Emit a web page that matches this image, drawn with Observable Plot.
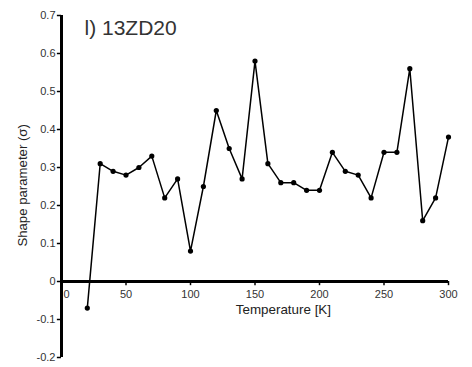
<!DOCTYPE html>
<html><head><meta charset="utf-8">
<script src="https://cdn.jsdelivr.net/npm/d3@7"></script>
<script src="https://cdn.jsdelivr.net/npm/@observablehq/plot@0.6"></script>
<style>body{margin:0;background:#fff}</style>
</head><body><div id="chart"></div>
<script>
const temperature = [20,30,40,50,60,70,80,90,100,110,120,130,140,150,160,170,180,190,200,210,220,230,240,250,260,270,280,290,300];
const sigma = [-0.07,0.31,0.29,0.28,0.30,0.33,0.22,0.27,0.08,0.25,0.45,0.35,0.27,0.58,0.31,0.26,0.26,0.24,0.24,0.34,0.29,0.28,0.22,0.34,0.34,0.56,0.16,0.22,0.38];
const xTicks = [0,50,100,150,200,250,300];
const xTickLabels = ["0","50","100","150","200","250","300"];
const yTicks = [0.7,0.6,0.5,0.4,0.3,0.2,0.1,0,-0.1,-0.2];
const yTickLabels = ["0.7","0.6","0.5","0.4","0.3","0.2","0.1","0","-0.1","-0.2"];
const title = "l) 13ZD20";
const xLabel = "Temperature [K]";
const yLabel = "Shape parameter (σ)";

const data = temperature.map((t,i)=>({t, s: sigma[i]}));
const xt = xTicks.map((v,i)=>({v, label: xTickLabels[i]}));
const yt = yTicks.map((v,i)=>({v, label: yTickLabels[i]}));

const chart = Plot.plot({
  width: 472, height: 367,
  marginLeft: 61, marginRight: 24, marginTop: 15, marginBottom: 10,
  style: {fontFamily: "'Liberation Sans', Arial, sans-serif", background: "#fff"},
  x: {domain: [0, 300], axis: null},
  y: {domain: [-0.2, 0.7], axis: null},
  marks: [
    // y axis ticks and labels
    Plot.ruleY(yt, {y: "v", x1: 0, x2: -3.2, stroke: "#000", strokeWidth: 1.5}),
    Plot.text(yt, {y: "v", x: 0, text: "label", textAnchor: "end", dx: -6, fontSize: 11, fill: "#333"}),
    // x axis ticks and labels
    Plot.ruleX(xt, {x: "v", y1: 0, y2: -0.011, stroke: "#000", strokeWidth: 1.5}),
    Plot.text(xt.filter(d=>d.v!==0), {x: "v", y: 0, text: "label", dy: 13, fontSize: 11, fill: "#333"}),
    Plot.text(xt.filter(d=>d.v===0), {x: "v", y: 0, text: "label", dy: 13, dx: 5, fontSize: 11, fill: "#333"}),
    // axis lines
    Plot.ruleX([0], {y1: -0.2, y2: 0.7, stroke: "#000", strokeWidth: 3}),
    Plot.ruleY([0], {x1: 0, x2: 300, stroke: "#000", strokeWidth: 3}),
    // data
    Plot.line(data, {x: "t", y: "s", stroke: "#000", strokeWidth: 1.5}),
    Plot.dot(data, {x: "t", y: "s", r: 2.6, fill: "#000", stroke: "none"}),
    // labels
    Plot.text([title], {frameAnchor: "top-left", dx: 23, dy: 5, text: d=>d, fontSize: 21, fill: "#333", fontWeight: "normal", textAnchor: "start", lineAnchor: "top"}),
    Plot.text([xLabel], {x: 172, y: 0, dy: 28, text: d=>d, fontSize: 13.4, fill: "#222"}),
    Plot.text([yLabel], {frameAnchor: "left", dx: -39, y: 0.253, text: d=>d, rotate: -90, textAnchor: "middle", fontSize: 13.2, fill: "#222"})
  ]
});
document.getElementById("chart").append(chart);
</script>
</body></html>
